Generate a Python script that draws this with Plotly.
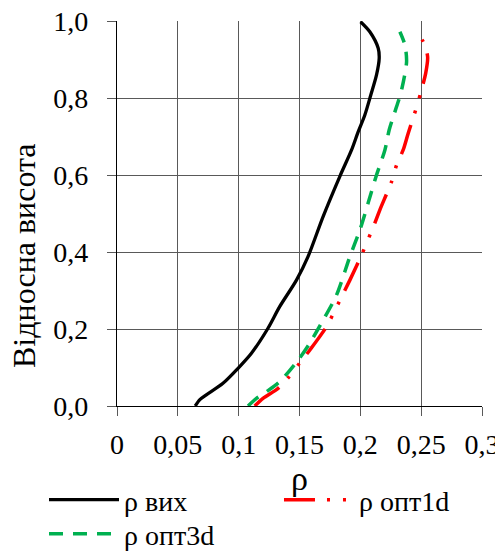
import plotly.graph_objects as go

# ρ вих
vih_x = [0.0643, 0.0679, 0.0734, 0.0871, 0.0995, 0.1105, 0.1241, 0.1337, 0.1475, 0.157, 0.1694, 0.1831,
         0.1928, 0.1982, 0.2037, 0.2086, 0.2133, 0.2155, 0.2147, 0.2078, 0.2002]
vih_y = [0.0, 0.016, 0.029, 0.059, 0.098, 0.137, 0.202, 0.258, 0.327, 0.388, 0.492, 0.596,
         0.665, 0.712, 0.756, 0.808, 0.860, 0.903, 0.929, 0.972, 0.998]

# ρ опт1d
opt1_x = [0.1132, 0.120, 0.1324, 0.1414, 0.150, 0.1584, 0.1722, 0.179, 0.1914, 0.201, 0.2064, 0.2119,
          0.216, 0.2257, 0.2298, 0.2352, 0.2393, 0.2468, 0.2504, 0.2537, 0.2553, 0.2517, 0.2449]
opt1_y = [0.0, 0.020, 0.046, 0.076, 0.111, 0.145, 0.206, 0.248, 0.327, 0.392, 0.433, 0.475,
          0.509, 0.583, 0.626, 0.665, 0.708, 0.782, 0.823, 0.864, 0.907, 0.946, 0.977]

# ρ опт3d
opt3_x = [0.1077, 0.1146, 0.1228, 0.1337, 0.1488, 0.1584, 0.1694, 0.1804, 0.1914, 0.1996, 0.2064, 0.2133,
          0.2202, 0.2237, 0.227, 0.2311, 0.2339, 0.238, 0.2366, 0.2325]
opt3_y = [0.0, 0.020, 0.037, 0.063, 0.119, 0.163, 0.223, 0.288, 0.388, 0.457, 0.527, 0.600,
          0.665, 0.717, 0.751, 0.790, 0.821, 0.894, 0.938, 0.972]

x_ticks = [0, 0.05, 0.1, 0.15, 0.2, 0.25, 0.3]
y_ticks = [0.0, 0.2, 0.4, 0.6, 0.8, 1.0]
x_title = "ρ"
y_title = "Відносна висота"

FONT = "Liberation Serif, Liberation Sans, Arial"
FS = 28
fig = go.Figure()
fig.add_trace(go.Scatter(x=vih_x, y=vih_y, mode="lines", name="ρ вих", legend="legend",
                         line=dict(color="#000000", width=3.3, shape="spline", smoothing=0.8)))
fig.add_trace(go.Scatter(x=opt1_x, y=opt1_y, mode="lines", name="ρ опт1d", legend="legend2",
                         line=dict(color="#FF0000", width=3.5, shape="spline", smoothing=0.8,
                                   dash="31px,12px,3px,13px,3px,12px")))
fig.add_trace(go.Scatter(x=opt3_x, y=opt3_y, mode="lines", name="ρ опт3d", legend="legend3",
                         line=dict(color="#00B050", width=3.5, shape="spline", smoothing=0.8,
                                   dash="14px,10px")))

leg_common = dict(orientation="h", xref="paper", yref="paper", xanchor="left", yanchor="middle",
                  itemwidth=70, bgcolor="rgba(0,0,0,0)", font=dict(family=FONT, size=FS))

# page body has an 8px margin: figure is 495x545 and placed at (8, 8)
fig.update_layout(
    width=495, height=545,
    margin=dict(l=109, r=21, t=13, b=147, autoexpand=False),
    paper_bgcolor="white", plot_bgcolor="white",
    separators=", ",
    font=dict(family=FONT, size=FS, color="#000000"),
    showlegend=True,
    legend=dict(**leg_common, x=-0.2, y=-0.244),
    legend2=dict(**leg_common, x=0.4438, y=-0.244),
    legend3=dict(**leg_common, x=-0.2, y=-0.3325),
    annotations=[dict(text=y_title, textangle=-90, xref="paper", yref="paper",
                      x=-0.255, y=0.392, xanchor="center", yanchor="middle", showarrow=False,
                      font=dict(family=FONT, size=32))],
)
fig.update_xaxes(range=[0, 0.3], tickvals=x_ticks, showgrid=True, gridcolor="#595959", gridwidth=1.3,
                 showline=True, linecolor="#000000", linewidth=1.3, automargin=False,
                 ticks="outside", ticklen=9, tickcolor="#595959", tickwidth=1.3, ticklabelstandoff=4,
                 ticklabeloverflow="allow",
                 title=dict(text=x_title, standoff=0), zeroline=False)
fig.update_yaxes(range=[0, 1.0], tickvals=y_ticks, tickformat=".1f", showgrid=True, gridcolor="#595959",
                 gridwidth=1.3, showline=True, linecolor="#000000", linewidth=1.3, automargin=False,
                 ticks="outside", ticklen=9, tickcolor="#595959", tickwidth=1.3, ticklabelstandoff=13,
                 ticklabeloverflow="allow", zeroline=False)

fig.write_html("out.html")
